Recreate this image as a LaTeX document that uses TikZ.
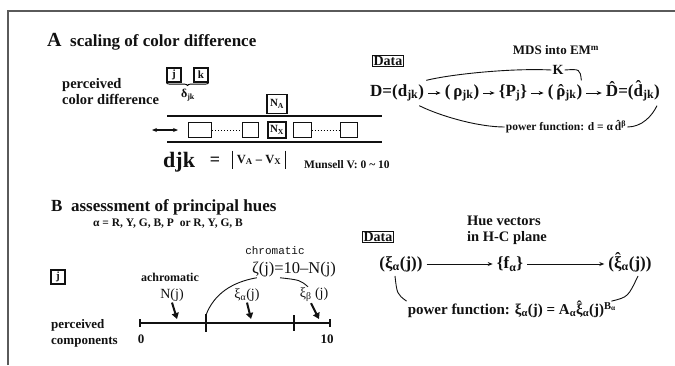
\documentclass[tikz,border=0pt]{standalone}
\usepackage{fontspec}
\usepackage{graphicx}
\setmainfont{Liberation Serif}
\setmonofont{Liberation Mono}
\usetikzlibrary{arrows.meta,decorations.pathreplacing}
\definecolor{ink}{HTML}{111111}
\definecolor{rule}{HTML}{5A5A5A}
\newcommand{\lo}[1]{\textsubscript{#1}}
\newcommand{\up}[1]{\textsuperscript{#1}}
\newcommand{\hatit}[2][0pt]{\ooalign{#2\cr\hidewidth\raisebox{#1}{ˆ}\hidewidth\cr}}

\begin{document}
\begin{tikzpicture}[x=1pt, y=-1pt,
    every node/.style={inner sep=1pt, text=ink},
    head/.style={font=\bfseries\fontsize{17}{20}\selectfont, anchor=west},
    lab/.style={font=\bfseries\fontsize{14.5}{16}\selectfont, align=left, anchor=west},
    row/.style={font=\bfseries\fontsize{17}{19}\selectfont, inner sep=4pt},
    note/.style={font=\bfseries\fontsize{11.5}{13}\selectfont},
    plain/.style={font=\fontsize{14}{16}\selectfont},
    sbox/.style={draw=ink, line width=1.2pt, minimum size=14pt, inner sep=1.5pt, font=\bfseries\fontsize{11}{12}\selectfont},
    cbox/.style={draw=ink, line width=1pt, minimum height=15pt},
    dbox/.style={draw=ink, line width=0.8pt, inner sep=1.2pt, font=\bfseries\fontsize{14}{15}\selectfont},
    arr/.style={draw=ink, -{Stealth[length=5pt,width=4pt]}, line width=0.8pt},
    pointer/.style={draw=ink, -{Triangle[length=6pt,width=7pt]}, line width=2pt},
    curve/.style={draw=ink, line width=0.9pt},
    bar/.style={draw=ink, line width=1.8pt}
]
\useasboundingbox (0,0) rectangle (675,365);
\draw[rule, line width=2pt] (8,365) -- (8,11) -- (675,11);

% A: scaling of color difference
\node[head] (titleA) at (46,42) {{\fontsize{20}{22}\selectfont A}\ \ scaling of color difference};
\node[lab] (perc) at (61,92) {perceived\\color difference};
\node[sbox] (bj) at (174,75) {j};
\node[sbox] (bk) at (201,75) {k};
\draw[decorate, decoration={brace, mirror, amplitude=3pt}, line width=0.9pt] (bj.south west) -- (bk.south east);
\node[font=\bfseries\fontsize{12}{14}\selectfont] (delta) at (188,95) {δ\lo{jk}};

\node[sbox, minimum width=20pt, minimum height=19pt] (NA) at (277,104) {N\lo{A}};
\draw[bar] (167,116) -- (382,116);
\draw[bar] (167,142) -- (382,142);
\node[cbox, minimum width=23pt] (c1) at (200,130) {};
\node[cbox, minimum width=16pt] (c2) at (250,130) {};
\node[sbox, minimum width=18pt, minimum height=16pt] (NX) at (277,130) {N\lo{X}};
\node[cbox, minimum width=18pt] (c4) at (302,130) {};
\node[cbox, minimum width=17pt] (c5) at (349,130) {};
\draw[dotted, line width=1pt] (c1) -- (c2);
\draw[dotted, line width=1pt] (c4) -- (c5);
\coordinate (sl) at (152,130);
\coordinate (sr) at (178,130);
\draw[draw=ink, {Stealth[length=5pt,width=4pt]}-{Stealth[length=5pt,width=4pt]}, line width=1.2pt] (sl) -- (sr);

\node[font=\bfseries\fontsize{22}{24}\selectfont, anchor=base west] (djk) at (162,167) {djk};
\node[font=\bfseries\fontsize{18}{20}\selectfont, anchor=base] (eq) at (215,165) {=};
\node[font=\bfseries\fontsize{12.5}{14}\selectfont, anchor=base, inner sep=4pt] (vdiff) at (259,163) {V\lo{A} – V\lo{X}};
\draw[draw=ink, line width=1pt] (vdiff.north west) -- (vdiff.south west);
\draw[draw=ink, line width=1pt] (vdiff.north east) -- (vdiff.south east);
\node[note, anchor=west] (mun) at (303,165) {Munsell V: 0 \textasciitilde\ 10};

% A: MDS chain
\node[dbox] (dataA) at (388,61) {Data};
\node[font=\bfseries\fontsize{13}{15}\selectfont] (mds) at (556,50) {MDS into EM\up{m}};
\node[font=\bfseries\fontsize{14}{15}\selectfont] (K) at (558,70) {K};
\node[row, anchor=west] (D) at (366,93) {D=(d\lo{jk})};
\node[row] (rho) at (462,93) {(\,ρ\lo{jk})};
\node[row] (P) at (513,93) {\{P\lo{j}\}};
\node[row] (rhoh) at (565,93) {(\,\hatit{ρ}\lo{jk})};
\node[row, anchor=east] (Dh) at (664,93) {\hatit[0.17em]{D}=(\hatit[0.2em]{d}\lo{jk})};
\draw[arr] (D) -- (rho);
\draw[arr] (rho) -- (P);
\draw[arr] (P) -- (rhoh);
\draw[arr] (rhoh) -- (Dh);
\draw[curve] ([xshift=-2pt]D.north east) .. controls (452,74) and (512,68) .. (K.west);
\draw[curve] (K.east) .. controls (580,69) .. ([xshift=-5pt]rhoh.north east);
\node[font=\bfseries\fontsize{11.5}{13}\selectfont] (pfA) at (566,127) {power function: d = α\,\hatit[0.2em]{d}\up{β}};
\draw[curve] ([xshift=-9pt]D.south east) .. controls (440,116) and (478,127) .. (pfA.west);
\draw[curve] (pfA.east) .. controls (642,127) and (652,116) .. ([xshift=-7pt]Dh.south east);

% B: assessment of principal hues
\node[head] (titleB) at (50,207) {B\ \ assessment of principal hues};
\node[note] (alpha) at (168,224) {α = R, Y, G, B, P\ \ or R, Y, G, B};
\node[sbox] (bjB) at (58,277) {j};
\node[lab, font=\bfseries\fontsize{13}{16}\selectfont] (pc) at (50,333) {perceived\\components};

\coordinate (z0) at (140,323);
\coordinate (t1) at (206,323);
\coordinate (t2) at (294,323);
\coordinate (z10) at (330,323);
\draw[draw=ink, line width=2.2pt] (z0) -- (t1);
\draw[draw=ink, line width=1.3pt] (t1) -- (z10);
\foreach \t/\h in {z0/4,t1/9,t2/8,z10/4}
    \draw[draw=ink, line width=1.2pt] ([yshift=\h pt]\t) -- ([yshift=-\h pt]\t);
\node[font=\bfseries\fontsize{13}{15}\selectfont] (n0) at (141,339) {0};
\node[font=\bfseries\fontsize{13}{15}\selectfont] (n10) at (327,339) {10};

\node[font=\bfseries\fontsize{12}{14}\selectfont] (achro) at (170,277) {achromatic};
\node[plain] (Nj) at (172,295) {N(j)};
\node[font=\ttfamily\fontsize{11}{13}\selectfont] (chro) at (275,251) {chromatic};
\node[font=\fontsize{16.5}{18}\selectfont] (zeta) at (294,269) {ζ(j)=10–N(j)};
\node[plain] (xa) at (247,295) {ξ\lo{α}(j)};
\node[plain] (xb) at (314,295) {ξ\lo{β} (j)};
\coordinate (pN) at (177,319);
\coordinate (pa) at (251,319);
\coordinate (pb) at (319,319);
\draw[pointer] (Nj.south) -- (pN);
\draw[pointer] (xa.south) -- (pa);
\draw[pointer] ([xshift=-3pt]xb.south) -- (pb);
\draw[curve] ([yshift=8pt]t1) .. controls (214,294) and (232,282) .. ([xshift=6pt]zeta.south west);
\draw[curve] ([xshift=-14pt]zeta.south) .. controls (300,280) .. ([xshift=-6pt]xb.north);

% B: hue vectors
\node[dbox] (dataB) at (378,237) {Data};
\node[font=\bfseries\fontsize{14.5}{16}\selectfont, align=left] (hue) at (507,230) {Hue vectors\\in H-C plane};
\node[row] (xi) at (401,264) {(ξ\lo{α}(j))};
\node[row] (f) at (510,264) {\{f\lo{α}\}};
\node[row] (xih) at (630,264) {(\hatit[0.2em]{ξ}\lo{α}(j))};
\draw[arr] (xi) -- (f);
\draw[arr] (f) -- (xih);
\node[font=\bfseries\fontsize{15}{17}\selectfont] (pfB) at (512,310) {power function: ξ\lo{α}(j) = A\lo{α}\hatit[0.2em]{ξ}\lo{α}(j)\up{B\lo{α}}};
\draw[curve] ([xshift=-6pt]xi.south) .. controls (397,294) .. (pfB.north west);
\draw[curve] ([xshift=-6pt]pfB.north east) .. controls (628,297) .. ([xshift=8pt]xih.south);
\end{tikzpicture}
\end{document}
